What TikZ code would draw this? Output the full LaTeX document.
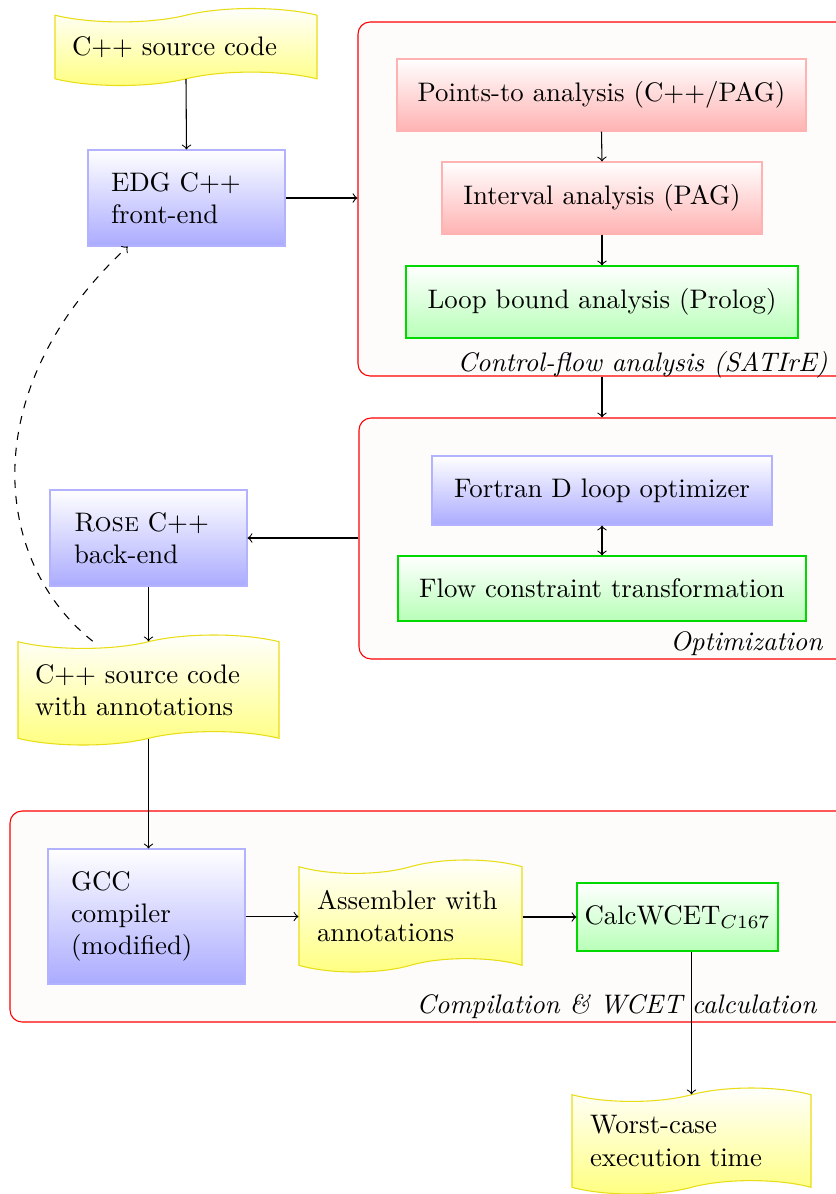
\documentclass[tikz,border=0pt]{standalone}
\usetikzlibrary{shapes.symbols,calc}
\newcommand\pxl[1]{#1*0.3731pt}
\definecolor{grpfill}{RGB}{253,252,251}
\tikzset{
  grp/.style={draw=red, fill=grpfill, rounded corners=4.5pt, inner sep=0pt},
  grplabel/.style={font=\itshape, inner sep=0pt},
  bluebox/.style={draw=blue!30, top color=white, bottom color=blue!33, inner sep=0pt},
  redbox/.style={draw=red!30, top color=white, bottom color=red!30, inner sep=0pt},
  greenbox/.style={draw=green!85!black, top color=white, bottom color=green!28, inner sep=0pt},
  tapebox/.style={tape, draw=yellow!90!black, top color=white, bottom color=yellow!50, inner ysep=0pt, align=left},
  leftbox/.style={align=left},
  arr/.style={->},
  arrboth/.style={<->},
}
\begin{document}
\begin{tikzpicture}[x=0.3731pt, y=-0.3731pt]
\useasboundingbox (0,0) rectangle (835,1194);
% groups
\node[grp, minimum width=\pxl{490}, minimum height=\pxl{354}] (g1) at (603,199) {};
\node[grp, minimum width=\pxl{490}, minimum height=\pxl{241}] (g2) at (604,538.5) {};
\node[grp, minimum width=\pxl{840}, minimum height=\pxl{211}] (g3) at (430,916.5) {};
\node[grplabel, anchor=base east] (l1) at (828,371) {Control-flow analysis (SATIrE)};
\node[grplabel, anchor=base east] (l2) at (823,650) {Optimization};
\node[grplabel, anchor=base east] (l3) at (817,1013) {Compilation \& WCET calculation};
% nodes
\node[tapebox, minimum width=\pxl{262}, minimum height=\pxl{77}, inner xsep=\pxl{17}, text width=\pxl{228}] (src) at (186,47) {C++ source code};
\node[bluebox, leftbox, minimum width=\pxl{197}, minimum height=\pxl{96}, inner xsep=\pxl{23}, text width=\pxl{151}] (edg) at (186.5,198) {EDG C++\\front-end};
\node[redbox, minimum width=\pxl{409}, minimum height=\pxl{72}] (pts) at (601.5,95) {Points-to analysis (C++/PAG)};
\node[redbox, minimum width=\pxl{320}, minimum height=\pxl{72}] (intv) at (602,198) {Interval analysis (PAG)};
\node[greenbox, minimum width=\pxl{392}, minimum height=\pxl{72}] (loop) at (602,302) {Loop bound analysis (Prolog)};
\node[bluebox, minimum width=\pxl{340}, minimum height=\pxl{69}] (fort) at (602,490.5) {Fortran D loop optimizer};
\node[greenbox, minimum width=\pxl{408}, minimum height=\pxl{65}] (flow) at (602,588.5) {Flow constraint transformation};
\node[bluebox, leftbox, minimum width=\pxl{197}, minimum height=\pxl{96}, inner xsep=\pxl{24}, text width=\pxl{149}] (rose) at (148.5,538) {\textsc{Rose} C++\\back-end};
\node[tapebox, minimum width=\pxl{261}, minimum height=\pxl{110}, inner xsep=\pxl{17}, text width=\pxl{227}] (t2) at (148.5,690) {C++ source code\\with annotations};
\node[bluebox, leftbox, minimum width=\pxl{197}, minimum height=\pxl{135}, inner xsep=\pxl{23}, text width=\pxl{151}] (gcc) at (146.5,916.5) {GCC\\compiler\\(modified)};
\node[tapebox, minimum width=\pxl{223}, minimum height=\pxl{112}, inner xsep=\pxl{18}, text width=\pxl{187}] (asm) at (410.5,916) {Assembler with\\annotations};
\node[greenbox, minimum width=\pxl{201}, minimum height=\pxl{68}] (calc) at (677.5,917) {CalcWCET$_{C167}$};
\node[tapebox, minimum width=\pxl{239}, minimum height=\pxl{106}, inner xsep=\pxl{18}, text width=\pxl{203}] (wc) at (691.5,1141) {Worst-case\\execution time};
% connectors
\draw[arr] (src.south) -- (edg.north);
\draw[arr] (edg.east) -- (edg.east -| g1.west);
\draw[arr] (pts.south) -- (intv.north);
\draw[arr] (intv.south) -- (loop.north);
\draw[arr] (loop.south |- g1.south) -- (loop.south |- g2.north);
\draw[arrboth] (fort.south) -- (flow.north);
\draw[arr] (rose.east -| g2.west) -- (rose.east);
\draw[arr] (rose.south) -- (t2.north);
\coordinate (ds) at ($(t2.north west)!0.287!(t2.north east)$);
\coordinate (de) at ($(edg.south west)!0.203!(edg.south east)$);
\draw[arr, dashed] (ds) .. controls (-5.5,563) and (-28,392) .. (de);
\draw[arr] (t2.south) -- (t2.south |- gcc.north);
\draw[arr] (gcc.east) -- (gcc.east -| asm.west);
\draw[arr] (asm.east |- calc.west) -- (calc.west);
\draw[arr] (wc.north |- calc.south) -- (wc.north);
\end{tikzpicture}
\end{document}
